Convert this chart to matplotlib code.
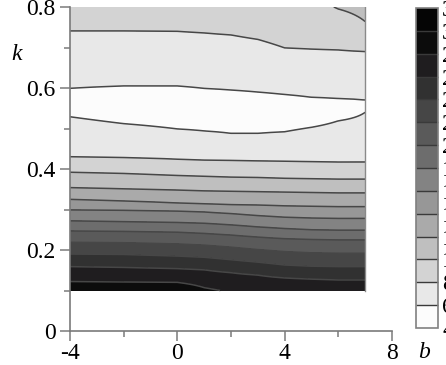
import numpy as np
import matplotlib
matplotlib.use("Agg")
import matplotlib.pyplot as plt

plt.rcParams['font.family'] = ['Liberation Serif', 'DejaVu Serif']

nan = np.nan

# ---- data ----
b_cols = [-4, -2, 0, 1, 2, 3, 4, 5, 6, 7]
k_bottom, k_top = 0.1, 0.8

z_bottom = [29.5, 29.5, 29.5, 28.3, 27.8, 27.5, 27.5, 27.5, 27.5, 27.5]
z_top = [9.0, 9.0, 9.0, 9.1, 9.2, 9.3, 9.4, 9.5, 10.1, 10.4]
z_min = 5.0

# k position where each contour level is crossed (per b column), lower part
lower_levels = [28, 26, 24, 22, 20, 18, 16, 14, 12, 10, 8, 6]
k_lower = [
    [0.122, 0.121, 0.120, 0.107, nan, nan, nan, nan, nan, nan],
    [0.159, 0.157, 0.154, 0.151, 0.144, 0.138, 0.131, 0.128, 0.126, 0.126],
    [0.190, 0.189, 0.185, 0.182, 0.176, 0.170, 0.163, 0.160, 0.159, 0.159],
    [0.219, 0.218, 0.215, 0.212, 0.207, 0.201, 0.196, 0.193, 0.192, 0.192],
    [0.247, 0.246, 0.244, 0.241, 0.237, 0.232, 0.228, 0.226, 0.225, 0.225],
    [0.272, 0.270, 0.268, 0.266, 0.262, 0.257, 0.253, 0.250, 0.249, 0.249],
    [0.299, 0.298, 0.296, 0.294, 0.290, 0.285, 0.281, 0.279, 0.278, 0.278],
    [0.325, 0.321, 0.316, 0.314, 0.312, 0.311, 0.309, 0.308, 0.307, 0.307],
    [0.354, 0.351, 0.348, 0.346, 0.345, 0.344, 0.343, 0.342, 0.341, 0.341],
    [0.392, 0.389, 0.384, 0.382, 0.380, 0.379, 0.377, 0.376, 0.375, 0.375],
    [0.430, 0.428, 0.424, 0.422, 0.421, 0.420, 0.419, 0.418, 0.417, 0.417],
    [0.529, 0.512, 0.499, 0.494, 0.488, 0.488, 0.492, 0.503, 0.519, 0.540],
]
# upper part (values rise again towards the top)
upper_levels = [6, 8, 10]
k_upper = [
    [0.599, 0.605, 0.605, 0.599, 0.595, 0.590, 0.584, 0.577, 0.574, 0.570],
    [0.741, 0.741, 0.740, 0.736, 0.731, 0.720, 0.699, 0.696, 0.694, 0.690],
    [nan, nan, nan, nan, nan, nan, nan, nan, 0.795, 0.764],
]

levels = list(range(4, 33, 2))
cbar_ticks = list(range(4, 33, 2))
band_colors = ['#fcfcfc', '#e8e8e8', '#d3d3d3', '#bfbfbf', '#aaaaaa', '#979797',
               '#838383', '#6d6d6d', '#5a5a5a', '#464646', '#313131', '#1f1d1f',
               '#0c0c0c', '#050505']

x_major = [-4, 0, 4, 8]
x_minor = [-2, 2, 6]
y_major = [0, 0.2, 0.4, 0.6, 0.8]
y_minor = [0.1, 0.3, 0.5, 0.7]
x_ticklabels = ['-4', '0', '4', '8']
y_ticklabels = ['0', '0.2', '0.4', '0.6', '0.8']

# ---- build the field from the read contour positions ----
k_fine = np.linspace(k_bottom, k_top, 401)
cols = []
for j in range(len(b_cols)):
    kp = [k_bottom]
    zp = [z_bottom[j]]
    for lev, row in zip(lower_levels, k_lower):
        if not np.isnan(row[j]):
            kp.append(row[j]); zp.append(lev)
    kp.append(0.5 * (k_lower[-1][j] + k_upper[0][j])); zp.append(z_min)
    for lev, row in zip(upper_levels, k_upper):
        if not np.isnan(row[j]):
            kp.append(row[j]); zp.append(lev)
    kp.append(k_top); zp.append(z_top[j])
    cols.append(np.interp(k_fine, kp, zp))
Z = np.column_stack(cols)

# ---- figure ----
FS = 17
fig = plt.figure(figsize=(4.46, 3.65), dpi=100)
ax = fig.add_axes([70/446, 34/365, 322/446, 324/365])

cf = ax.contourf(b_cols, k_fine, Z, levels=levels, colors=band_colors)
ax.contour(b_cols, k_fine, Z, levels=levels[1:-1], colors='#474747', linewidths=1.1)
ax.plot([b_cols[-1], b_cols[-1]], [k_bottom, k_top], color='#8a8a8a', lw=1.0)

ax.set_xlim(-4, 8)
ax.set_ylim(0, 0.8)
for s in ['top', 'right']:
    ax.spines[s].set_visible(False)
for s in ['left', 'bottom']:
    ax.spines[s].set_color('#7a7a7a')
    ax.spines[s].set_linewidth(1.2)
ax.set_xticks(x_major)
ax.set_xticklabels(x_ticklabels)
ax.set_xticks(x_minor, minor=True)
ax.set_yticks(y_major)
ax.set_yticklabels(y_ticklabels)
ax.set_yticks(y_minor, minor=True)
ax.tick_params(which='major', length=7.5, width=1.1, color='#7a7a7a', labelsize=FS, pad=1)
ax.tick_params(which='minor', length=4, width=1.1, color='#7a7a7a')
ax.tick_params(axis='y', which='major', pad=3)

fig.text(17/446, 1 - 55/365, 'k', style='italic', fontsize=FS, ha='center', va='center')
fig.text(424/446, 1 - 352/365, 'b', style='italic', fontsize=FS, ha='center', va='center')

cax = fig.add_axes([416/446, 37/365, 22/446, 320/365])
cb = fig.colorbar(cf, cax=cax, ticks=cbar_ticks, drawedges=True)
cb.dividers.set_color('#3a3a3a')
cb.dividers.set_linewidth(1.0)
cb.outline.set_edgecolor('#808080')
cb.outline.set_linewidth(1.2)
cax.tick_params(length=0, pad=3, labelsize=FS)

fig.savefig('out.png', dpi=100)
